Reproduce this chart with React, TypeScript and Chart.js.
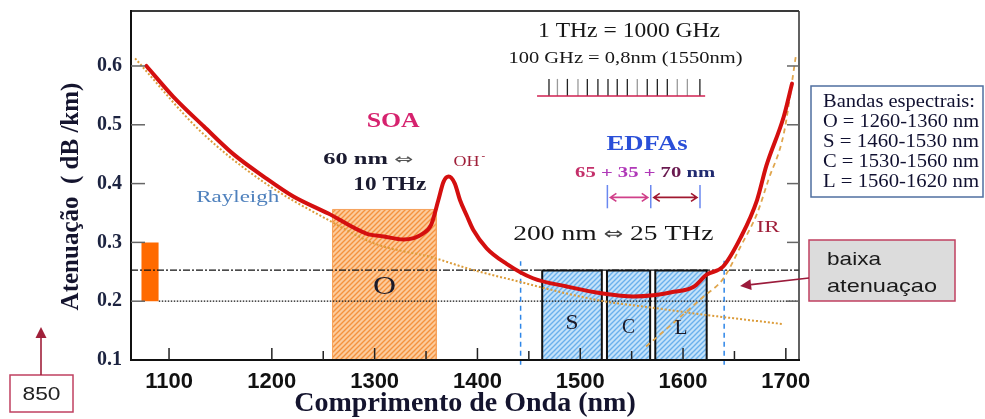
import React, { useEffect, useRef } from 'react';
import { Chart, registerables } from 'chart.js';

Chart.register(...registerables);

// ---------- axes ----------
const X_MIN = 1063;
const X_MAX = 1712.8;
const Y_MIN = 0.1;
const Y_MAX = 0.6935;
const xTickValues = [1100, 1200, 1300, 1400, 1500, 1600, 1700];
const xTickLabels = ['1100', '1200', '1300', '1400', '1500', '1600', '1700'];
const xMinorTicks = [1250, 1350, 1450, 1550, 1650];
const yTickValues = [0.1, 0.2, 0.3, 0.4, 0.5, 0.6];
const yTickLabels = ['0.1', '0.2', '0.3', '0.4', '0.5', '0.6'];

// ---------- total attenuation curve (nm, dB/km) ----------
const attenWavelength = [1078, 1104, 1134, 1162, 1192, 1221, 1255, 1292, 1309, 1328, 1347, 1355, 1362, 1367, 1372, 1378, 1383, 1390, 1396, 1409, 1428, 1454, 1487, 1522, 1552, 1571, 1591, 1610, 1623, 1639, 1656, 1672, 1681, 1698, 1706];
const attenValue = [0.600, 0.548, 0.497, 0.451, 0.412, 0.378, 0.349, 0.315, 0.310, 0.305, 0.315, 0.330, 0.372, 0.403, 0.412, 0.400, 0.372, 0.344, 0.321, 0.290, 0.264, 0.239, 0.225, 0.213, 0.208, 0.210, 0.216, 0.224, 0.245, 0.259, 0.308, 0.372, 0.430, 0.514, 0.570];

// ---------- Rayleigh scattering ----------
const rayleighWavelength = [1067, 1130, 1190, 1255, 1300, 1357, 1392, 1441, 1487, 1526, 1570, 1616, 1698];
const rayleighValue = [0.613, 0.490, 0.405, 0.338, 0.298, 0.274, 0.255, 0.233, 0.213, 0.199, 0.189, 0.178, 0.161];

// ---------- IR absorption ----------
const irWavelength = [1564, 1592, 1620, 1639, 1656, 1672, 1683, 1698, 1710];
const irValue = [0.123, 0.165, 0.208, 0.238, 0.293, 0.349, 0.406, 0.485, 0.620];

// ---------- spectral bands ----------
const bandNames = ['O', 'S', 'C', 'L'];
const bandStart = [1259, 1463, 1526, 1573];
const bandEnd = [1360, 1521, 1568, 1623];
const bandTop = [0.356, 0.252, 0.252, 0.252];
const bandLabelY = [0.224, 0.163, 0.156, 0.154];

const band850 = [1073, 1090];
const band850Range = [0.2, 0.3];

const lowLossLevel = 0.253;
const minLossLevel = 0.2;
const minLossStart = 1090;
const windowEdges = [1442, 1640];
const windowEdgeTop = [0.268, 0.275];
const windowEdgeBottom = 0.092;

// ---------- channel comb (100 GHz grid) ----------
const combChannels = [1469.6, 1477.8, 1487.5, 1497.8, 1506.9, 1517.2, 1527, 1536, 1545.8, 1555.5, 1565.2, 1575, 1584.7, 1594.4, 1604.2, 1616.4];
const combGray = [false, true, false, true, false, false, false, false, false, true, false, false, false, true, true, false];
const combSpan = [1458, 1621.5];
const combBase = 0.549;
const combTop = 0.578;

// EDFA band markers
const edfaMarkers = [1526.4, 1568.6, 1616.5];

const legendLines = ['Bandas espectrais:', 'O = 1260-1360 nm', 'S = 1460-1530 nm', 'C = 1530-1560 nm', 'L = 1560-1620 nm'];

const SERIF = '"Liberation Serif", "Times New Roman", serif';
const SANS = '"Liberation Sans", Arial, sans-serif';
const ARROWFONT = '"DejaVu Sans", sans-serif';

type Part = [string, string, string];
type Note = { parts: Part[]; x: number; y: number; w: number; align?: 'left' | 'center' };
const INK = '#161616';
const NAVY = '#1A1A30';
const notes: Note[] = [
  { parts: [['1 THz = 1000 GHz', INK, `20px ${SERIF}`]], x: 1547.5, y: 0.6575, w: 182 },
  { parts: [['100 GHz = 0,8nm (1550nm)', INK, `16px ${SERIF}`]], x: 1544, y: 0.613, w: 234 },
  { parts: [['SOA', '#D6226E', `bold 20px ${SERIF}`]], x: 1318, y: 0.5056, w: 53 },
  { parts: [['60 nm ', NAVY, `bold 16px ${SERIF}`], ['⇔', '#555', `15px ${ARROWFONT}`]], x: 1250, y: 0.440, w: 90, align: 'left' },
  { parts: [['10 THz', NAVY, `bold 19px ${SERIF}`]], x: 1279.3, y: 0.3976, w: 73, align: 'left' },
  { parts: [['Rayleigh', '#4F81BD', `16px ${SERIF}`]], x: 1166.8, y: 0.375, w: 83 },
  { parts: [['EDFAs', '#2A4FD8', `bold 22px ${SERIF}`]], x: 1565, y: 0.467, w: 81 },
  { parts: [['200 nm ', INK, `20px ${SERIF}`], ['⇔', '#444', `17px ${ARROWFONT}`], [' 25 THz', INK, `20px ${SERIF}`]], x: 1532.2, y: 0.3126, w: 200 },
  { parts: [['IR', '#A0203A', `16px ${SERIF}`]], x: 1682.7, y: 0.324, w: 23 },
  { parts: [['65 ', '#C4306A', `bold 15px ${SERIF}`], ['+ 35 +', '#B038B8', `bold 15px ${SERIF}`], [' 70', '#6A1A50', `bold 15px ${SERIF}`], [' nm', '#202A70', `bold 15px ${SERIF}`]], x: 1495, y: 0.4175, w: 140, align: 'left' },
];

function pts(xs: number[], ys: number[]) {
  return xs.map((x, i) => ({ x, y: ys[i] }));
}
// open rectangle outline (base edge closed by the fill target)
function rectPts(x0: number, x1: number, y0: number, y1: number) {
  return [{ x: x0, y: y0 }, { x: x0, y: y1 }, { x: x1, y: y1 }, { x: x1, y: y0 }];
}

function hatch(bg: string, fg: string, size = 5, lw = 1.4) {
  const c = document.createElement('canvas');
  c.width = size; c.height = size;
  const g = c.getContext('2d')!;
  g.fillStyle = bg; g.fillRect(0, 0, size, size);
  g.strokeStyle = fg; g.lineWidth = lw;
  g.beginPath();
  g.moveTo(-1, size + 1); g.lineTo(size + 1, -1);
  g.moveTo(-size / 2 - 1, size / 2 + 1); g.lineTo(size / 2 + 1, -size / 2 - 1);
  g.moveTo(size / 2 - 1, size * 1.5 + 1); g.lineTo(size * 1.5 + 1, size / 2 - 1);
  g.stroke();
  return g.createPattern(c, 'repeat')!;
}

function multiText(ctx: CanvasRenderingContext2D, parts: Part[], x: number, y: number, w: number | undefined,
  align: 'left' | 'center' = 'center', baseline: CanvasTextBaseline = 'middle') {
  ctx.save();
  ctx.textBaseline = baseline; ctx.textAlign = 'left';
  const widths = parts.map(([s, , f]) => { ctx.font = f; return ctx.measureText(s).width; });
  const total = widths.reduce((a, b) => a + b, 0);
  const sx = w ? w / total : 1;
  const startX = align === 'center' ? x - (total * sx) / 2 : x;
  ctx.translate(startX, y); ctx.scale(sx, 1);
  let off = 0;
  parts.forEach(([s, c, f], i) => { ctx.font = f; ctx.fillStyle = c; ctx.fillText(s, off, 0); off += widths[i]; });
  ctx.restore();
}

function seg(ctx: CanvasRenderingContext2D, x0: number, y0: number, x1: number, y1: number, color: string, lw: number) {
  ctx.save(); ctx.strokeStyle = color; ctx.lineWidth = lw;
  ctx.beginPath(); ctx.moveTo(x0, y0); ctx.lineTo(x1, y1); ctx.stroke(); ctx.restore();
}

function dblArrow(ctx: CanvasRenderingContext2D, x0: number, x1: number, y: number, color: string) {
  ctx.save(); ctx.strokeStyle = color; ctx.lineWidth = 1.6;
  ctx.beginPath();
  ctx.moveTo(x0, y); ctx.lineTo(x1, y);
  ctx.moveTo(x0 + 6, y - 4); ctx.lineTo(x0, y); ctx.lineTo(x0 + 6, y + 4);
  ctx.moveTo(x1 - 6, y - 4); ctx.lineTo(x1, y); ctx.lineTo(x1 - 6, y + 4);
  ctx.stroke(); ctx.restore();
}

function arrow(ctx: CanvasRenderingContext2D, x0: number, y0: number, x1: number, y1: number, color: string, head = 11, hw = 5.5) {
  const a = Math.atan2(y1 - y0, x1 - x0);
  const bx = x1 - Math.cos(a) * head, by = y1 - Math.sin(a) * head;
  ctx.save();
  ctx.strokeStyle = color; ctx.fillStyle = color; ctx.lineWidth = 1.6;
  ctx.beginPath(); ctx.moveTo(x0, y0); ctx.lineTo(bx, by); ctx.stroke();
  ctx.beginPath();
  ctx.moveTo(x1, y1);
  ctx.lineTo(bx + Math.sin(a) * hw, by - Math.cos(a) * hw);
  ctx.lineTo(bx - Math.sin(a) * hw, by + Math.cos(a) * hw);
  ctx.closePath(); ctx.fill();
  ctx.restore();
}

const decoPlugin = {
  id: 'deco',
  afterDraw(chart: any) {
    const ctx: CanvasRenderingContext2D = chart.ctx;
    const xs = chart.scales.x, ys = chart.scales.y;
    const { left, right, top, bottom } = chart.chartArea;
    const X = (v: number) => xs.getPixelForValue(v);
    const Y = (v: number) => ys.getPixelForValue(v);

    // frame
    seg(ctx, left, top, right, top, '#3a3a3a', 2);
    seg(ctx, right, top, right, bottom, '#3a3a3a', 1.6);
    seg(ctx, left, top - 1, left, bottom + 1, '#111', 2);
    seg(ctx, left - 1, bottom, right + 1, bottom, '#111', 2);

    // inward ticks
    xTickValues.forEach(v => seg(ctx, X(v), bottom, X(v), bottom - 12, '#222', 1.5));
    xMinorTicks.forEach(v => seg(ctx, X(v), bottom, X(v), bottom - 9, '#222', 1.5));
    yTickValues.slice(1).forEach(v => {
      seg(ctx, left, Y(v), left + 14, Y(v), '#666', 1.5);
      seg(ctx, right, Y(v), right - 12, Y(v), '#666', 1.5);
    });

    // y axis title
    ctx.save();
    ctx.translate(left - 59, (top + bottom) / 2 + 11);
    ctx.rotate(-Math.PI / 2);
    ctx.font = `bold 25px ${SERIF}`; ctx.fillStyle = '#14142e';
    ctx.textAlign = 'center'; ctx.textBaseline = 'middle';
    ctx.fillText('Atenuação  ( dB /km)', 0, 0);
    ctx.restore();

    // band letters
    bandNames.forEach((n, i) => {
      const cx = X((bandStart[i] + bandEnd[i]) / 2);
      multiText(ctx, [[n, '#1a1a2a', `${i === 0 ? 25 : 22}px ${SERIF}`]], cx, Y(bandLabelY[i]), i === 0 ? 23 : 13);
    });

    // text notes
    notes.forEach(n => multiText(ctx, n.parts, X(n.x), Y(n.y), n.w, n.align || 'center'));

    // OH-
    multiText(ctx, [['OH', '#A0203A', `15px ${SERIF}`]], X(1376.6), Y(0.4372), 26, 'left');
    multiText(ctx, [['-', '#A0203A', `11px ${SERIF}`]], X(1376.6) + 28, Y(0.4372) - 6, undefined, 'left');

    // EDFA markers and arrows
    edfaMarkers.forEach(v => seg(ctx, X(v), Y(0.3976), X(v), Y(0.358), '#6A88F0', 1.5));
    dblArrow(ctx, X(edfaMarkers[0]) + 3, X(edfaMarkers[1]) - 3, Y(0.3765), '#D0408A');
    dblArrow(ctx, X(edfaMarkers[1]) + 3, X(edfaMarkers[2]) - 3, Y(0.3765), '#A01830');

    // channel comb
    combChannels.forEach((v, i) => seg(ctx, X(v), Y(combBase), X(v), Y(combTop), combGray[i] ? '#9a9a9a' : '#222', 1.3));
    seg(ctx, X(combSpan[0]), Y(combBase), X(combSpan[1]), Y(combBase), '#D02050', 1.6);

    // legend box (spectral bands)
    const lx = right + 12, ly = top + 75, lw = 172, lh = 111;
    ctx.save(); ctx.strokeStyle = '#4F6FA0'; ctx.lineWidth = 1.5; ctx.strokeRect(lx, ly, lw, lh); ctx.restore();
    legendLines.forEach((s, i) => {
      const yy = ly + 16 + i * 20;
      multiText(ctx, [[s, '#101030', `18px ${SERIF}`]], lx + 12, yy, i === 0 ? 152 : 156, 'left');
    });

    // "baixa atenuaçao" callout
    const bx = right + 10, by = top + 229, bw = 146, bh = 61;
    ctx.save(); ctx.fillStyle = '#DCDCDC'; ctx.fillRect(bx, by, bw, bh);
    ctx.strokeStyle = '#C04060'; ctx.lineWidth = 1.5; ctx.strokeRect(bx, by, bw, bh); ctx.restore();
    multiText(ctx, [['baixa', '#1a1a1a', `19px ${SANS}`]], bx + 18, by + 25, 54, 'left', 'alphabetic');
    multiText(ctx, [['atenuaçao', '#1a1a1a', `19px ${SANS}`]], bx + 18, by + 51.5, 110, 'left', 'alphabetic');
    arrow(ctx, bx, by + 38, X(1655.5), Y(0.226), '#9B1B3B');

    // "850" callout
    const nx = left - 121, ny = bottom + 15, nw = 63, nh = 37;
    ctx.save(); ctx.fillStyle = '#fff'; ctx.fillRect(nx, ny, nw, nh);
    ctx.strokeStyle = '#C04060'; ctx.lineWidth = 1.5; ctx.strokeRect(nx, ny, nw, nh); ctx.restore();
    multiText(ctx, [['850', '#222', `19px ${SANS}`]], nx + nw / 2, ny + nh / 2 + 1, 38);
    arrow(ctx, nx + 31, ny, nx + 31, ny - 48, '#A0203A', 11, 5.5);
  },
};

export default function App() {
  const ref = useRef<HTMLCanvasElement>(null);
  useEffect(() => {
    const canvas = ref.current!;
    const orangeHatch = hatch('#FCCB9C', '#F5923E');
    const blueHatch = hatch('#C4E2FA', '#6AB0EC');

    const bandSets = bandNames.map((n, i) => ({
      label: n,
      data: rectPts(bandStart[i], bandEnd[i], Y_MIN, bandTop[i]),
      backgroundColor: i === 0 ? orangeHatch : blueHatch,
      borderColor: i === 0 ? '#F7A35C' : '#111',
      borderWidth: i === 0 ? 1 : 2,
      fill: { value: Y_MIN },
      pointRadius: 0,
      tension: 0,
      order: 19,
    }));

    const chart = new Chart(canvas, {
      type: 'line',
      data: {
        datasets: [
          {
            label: '850',
            data: rectPts(band850[0], band850[1], band850Range[0], band850Range[1]),
            backgroundColor: '#FF6A00',
            borderColor: '#FF6A00',
            borderWidth: 0,
            fill: { value: band850Range[0] },
            pointRadius: 0,
            tension: 0,
            order: 20,
          },
          ...bandSets,
          {
            label: 'low loss',
            data: [{ x: X_MIN, y: lowLossLevel }, { x: X_MAX, y: lowLossLevel }],
            borderColor: '#111', borderWidth: 1.3, borderDash: [7, 2, 2, 2],
            pointRadius: 0, fill: false, order: 15,
          },
          {
            label: 'min loss',
            data: [{ x: minLossStart, y: minLossLevel }, { x: X_MAX, y: minLossLevel }],
            borderColor: '#111', borderWidth: 1.3, borderDash: [1.5, 1.5],
            pointRadius: 0, fill: false, order: 15,
          },
          ...windowEdges.map((v, i) => ({
            label: 'edge' + i,
            data: [{ x: v, y: windowEdgeBottom }, { x: v, y: windowEdgeTop[i] }],
            borderColor: '#2E86E8', borderWidth: 1.5, borderDash: [5, 4],
            pointRadius: 0, fill: false, order: 14, clip: 10,
          })),
          {
            label: 'Rayleigh',
            data: pts(rayleighWavelength, rayleighValue),
            borderColor: '#DC9C3A', borderWidth: 2, borderDash: [2, 2],
            pointRadius: 0, fill: false, cubicInterpolationMode: 'monotone', order: 5,
          },
          {
            label: 'IR',
            data: pts(irWavelength, irValue),
            borderColor: '#E0A64E', borderWidth: 1.8, borderDash: [5, 4],
            pointRadius: 0, fill: false, cubicInterpolationMode: 'monotone', order: 5,
          },
          {
            label: 'Atenuação',
            data: pts(attenWavelength, attenValue),
            borderColor: '#D40F0F', borderWidth: 4, borderJoinStyle: 'round', borderCapStyle: 'round',
            pointRadius: 0, fill: false, cubicInterpolationMode: 'monotone', order: 1,
          },
        ] as any,
      },
      options: {
        responsive: false,
        animation: false,
        events: [],
        layout: { padding: { left: 0, top: 11, right: 186, bottom: 0 } },
        plugins: { legend: { display: false }, tooltip: { enabled: false } },
        scales: {
          x: {
            type: 'linear',
            min: X_MIN,
            max: X_MAX,
            grid: { display: false, drawTicks: false },
            border: { display: false },
            afterBuildTicks: (s: any) => { s.ticks = xTickValues.map(v => ({ value: v })); },
            afterFit: (s: any) => { s.height = 59; s.paddingLeft = 0; s.paddingRight = 0; },
            ticks: {
              padding: 9,
              maxRotation: 0,
              autoSkip: false,
              color: '#111',
              font: { family: SANS, size: 22, weight: 'bold' },
              callback: (_v: any, i: number) => xTickLabels[i],
            },
            title: {
              display: true,
              text: 'Comprimento de Onda (nm)',
              color: '#14142e',
              font: { family: SERIF, size: 28, weight: 'bold', lineHeight: 1 },
              padding: { top: 0, bottom: 1 },
            },
          },
          y: {
            type: 'linear',
            min: Y_MIN,
            max: Y_MAX,
            grid: { display: false, drawTicks: false },
            border: { display: false },
            afterBuildTicks: (s: any) => { s.ticks = yTickValues.map(v => ({ value: v })); },
            afterFit: (s: any) => { s.width = 131; s.paddingTop = 0; s.paddingBottom = 0; },
            ticks: {
              padding: 9,
              color: '#1C2340',
              font: { family: SERIF, size: 20, weight: 'bold' },
              callback: (_v: any, i: number) => yTickLabels[i],
            },
            title: { display: false },
          },
        },
      } as any,
      plugins: [decoPlugin],
    });
    return () => chart.destroy();
  }, []);

  return (
    <div style={{ position: 'fixed', left: 0, top: 0, width: 985, height: 419, background: '#fff' }}>
      <canvas ref={ref} width={985} height={419} style={{ display: 'block' }} />
    </div>
  );
}
